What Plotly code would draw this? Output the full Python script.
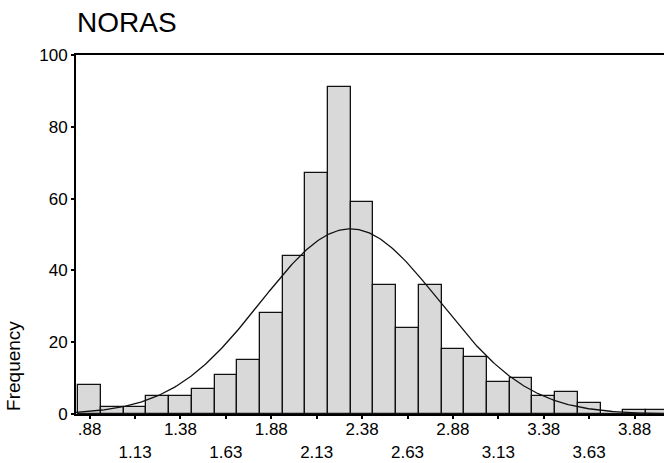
import numpy as np
import plotly.graph_objects as go

# Histogram of NORAS scores, bin width 0.125
bin_centers = [0.875, 1.0, 1.125, 1.25, 1.375, 1.5, 1.625, 1.75, 1.875, 2.0,
               2.125, 2.25, 2.375, 2.5, 2.625, 2.75, 2.875, 3.0, 3.125, 3.25,
               3.375, 3.5, 3.625, 3.75, 3.875, 4.0]
frequency = [8, 2, 2, 5, 5, 7, 11, 15, 28, 44,
             67, 91, 59, 36, 24, 36, 18, 16, 9, 10,
             5, 6, 3, 0, 1, 1]
bin_width = 0.125

# Axis tick positions and their labels (two staggered rows)
row1_vals = [0.875, 1.375, 1.875, 2.375, 2.875, 3.375, 3.875]
row1_text = [".88", "1.38", "1.88", "2.38", "2.88", "3.38", "3.88"]
row2_vals = [1.125, 1.625, 2.125, 2.625, 3.125, 3.625]
row2_text = ["1.13", "1.63", "2.13", "2.63", "3.13", "3.63"]
y_ticks = [0, 20, 40, 60, 80, 100]

x_range = [0.80, 4.037]
FONT = "Liberation Sans, Arial, sans-serif"
TICK_SIZE = 17

# Normal curve fitted to the binned data
centers = np.array(bin_centers)
counts = np.array(frequency, dtype=float)
n = counts.sum()
mean = (centers * counts).sum() / n
sd = np.sqrt(((centers - mean) ** 2 * counts).sum() / (n - 1))
xs = np.linspace(x_range[0], x_range[1], 400)
ys = n * bin_width * np.exp(-0.5 * ((xs - mean) / sd) ** 2) / (sd * np.sqrt(2 * np.pi))

fig = go.Figure()
fig.add_trace(go.Bar(
    x=bin_centers, y=frequency, width=bin_width,
    marker=dict(color="#d9d9d9", line=dict(color="#111111", width=1.3)),
    hoverinfo="x+y", showlegend=False,
))
# the curve lives on the second (label-only) x axis, which shares the range
fig.add_trace(go.Scatter(
    x=xs, y=ys, mode="lines", xaxis="x2", yaxis="y",
    line=dict(color="#111111", width=1.3),
    hoverinfo="skip", showlegend=False,
))

all_ticks = sorted(row1_vals + row2_vals)
all_text = [row1_text[row1_vals.index(v)] if v in row1_vals else "" for v in all_ticks]

fig.update_layout(
    width=669, height=463,
    margin=dict(l=76, r=5, t=55, b=49, autoexpand=False),
    paper_bgcolor="white", plot_bgcolor="white",
    font=dict(family=FONT, color="black", size=TICK_SIZE),
    bargap=0,
    xaxis=dict(
        range=x_range, showgrid=False, zeroline=False, automargin=False,
        showline=True, mirror=True, linecolor="black", linewidth=2,
        ticks="outside", ticklen=3, tickwidth=2, tickcolor="black",
        tickvals=all_ticks, ticktext=all_text,
        tickfont=dict(size=TICK_SIZE), ticklabelstandoff=-4,
    ),
    xaxis2=dict(
        range=x_range, overlaying="x", anchor="y", side="bottom",
        showgrid=False, zeroline=False, showline=False, ticks="",
        automargin=False,
        tickvals=row2_vals, ticktext=row2_text,
        tickfont=dict(size=TICK_SIZE), ticklabelstandoff=26,
    ),
    yaxis=dict(
        range=[0, 100], showgrid=False, zeroline=False, automargin=False,
        showline=True, linecolor="black", linewidth=2,
        ticks="outside", ticklen=3, tickwidth=2, tickcolor="black",
        tickvals=y_ticks, tickfont=dict(size=TICK_SIZE), ticklabelstandoff=0,
    ),
    annotations=[
        dict(text="NORAS", xref="paper", yref="paper", x=0, y=1,
             xanchor="left", yanchor="middle", xshift=-1, yshift=33,
             showarrow=False, font=dict(size=28, family=FONT)),
        dict(text="Frequency", xref="paper", yref="paper", x=0, y=0.134,
             xanchor="center", yanchor="middle", xshift=-62,
             textangle=-90, showarrow=False, font=dict(size=19, family=FONT)),
    ],
)

fig.write_html("out.html")
